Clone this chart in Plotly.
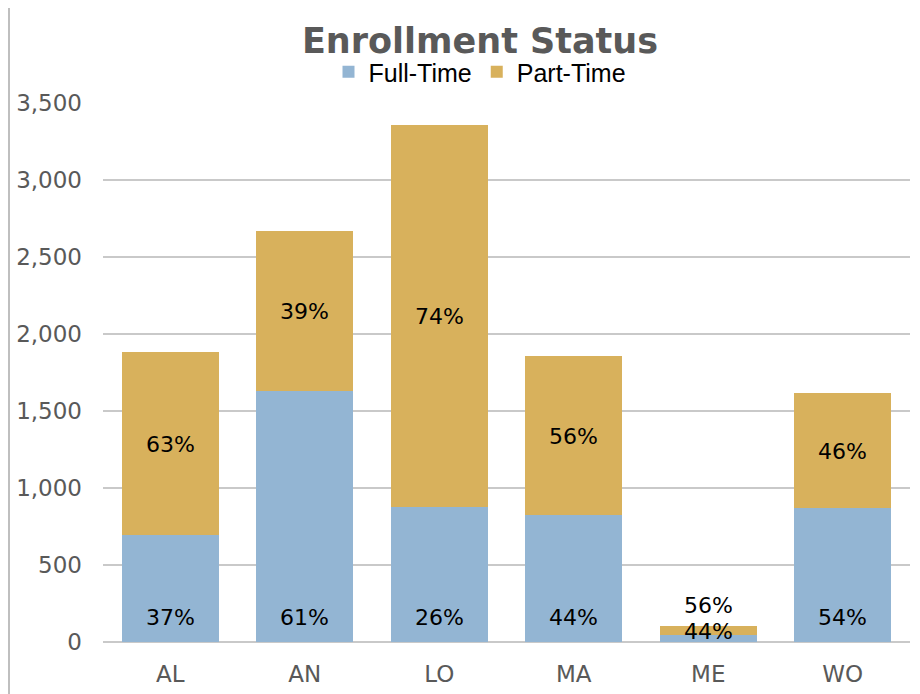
import plotly.graph_objects as go

categories = ["AL", "AN", "LO", "MA", "ME", "WO"]
full_time = [695, 1630, 877, 825, 46, 870]
part_time = [1188, 1039, 2480, 1032, 58, 747]
full_pct = ["37%", "61%", "26%", "44%", "44%", "54%"]
part_pct = ["63%", "39%", "74%", "56%", "56%", "46%"]

BLUE = "#93B5D3"
GOLD = "#D8B15C"

W, H = 912, 686  # page body has an 8px margin

fig = go.Figure()
fig.add_trace(go.Bar(x=categories, y=full_time, name="Full-Time", marker_color=BLUE,
                     marker_line_width=0))
fig.add_trace(go.Bar(x=categories, y=part_time, name="Part-Time", marker_color=GOLD,
                     marker_line_width=0))

lab_font = dict(family="DejaVu Sans", size=22, color="#000000")
for c, f, p, fp, pp in zip(categories, full_time, part_time, full_pct, part_pct):
    total = f + p
    if total < 300:
        fig.add_annotation(x=c, y=f / 2 + p / 4, text=fp, showarrow=False, font=lab_font,
                           yanchor="middle", yshift=5)
        fig.add_annotation(x=c, y=total, text=pp, showarrow=False, font=lab_font,
                           yanchor="middle", yshift=20)
    else:
        fig.add_annotation(x=c, y=0, text=fp, showarrow=False, font=lab_font,
                           yanchor="middle", yshift=25)
        fig.add_annotation(x=c, y=f + p / 2, text=pp, showarrow=False, font=lab_font,
                           yanchor="middle", yshift=-1)

fig.update_layout(
    width=W, height=H,
    barmode="stack", bargap=0.28,
    paper_bgcolor="white", plot_bgcolor="white",
    margin=dict(l=95, r=10, t=95, b=52, autoexpand=False),
    title=dict(text="<b>Enrollment Status</b>", x=472 / W, xanchor="center",
               y=1 - 33 / H, yref="container", yanchor="middle",
               font=dict(family="DejaVu Sans", size=35, color="#595959")),
    legend=dict(orientation="h", x=472 / W, xref="container", xanchor="center",
                y=1 - 64 / H, yref="container", yanchor="middle",
                font=dict(family="Liberation Sans", size=25, color="#000000"),
                traceorder="normal", itemsizing="constant"),
    showlegend=True,
)
fig.update_yaxes(range=[0, 3500], tickvals=[0, 500, 1000, 1500, 2000, 2500, 3000, 3500],
                 tickformat=",", showgrid=True, gridcolor="#C9C9C9", gridwidth=1.5,
                 zeroline=True, zerolinecolor="#C9C9C9", zerolinewidth=1.5,
                 showline=False, ticklabelstandoff=20, automargin=False,
                 tickfont=dict(family="DejaVu Sans", size=23, color="#595959"))
fig.update_xaxes(showline=False, showgrid=False, ticklabelstandoff=16, automargin=False,
                 tickfont=dict(family="DejaVu Sans", size=23, color="#595959"))
fig.add_shape(type="line", xref="paper", yref="paper",
              x0=-94 / 807, x1=-94 / 807, y0=-1, y1=2,
              line=dict(color="#BFBFBF", width=2))

fig.write_html("out.html")
